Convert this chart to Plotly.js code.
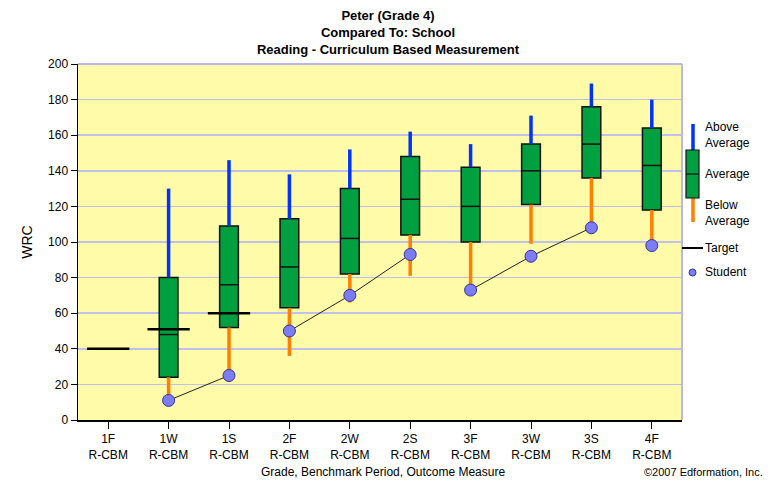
<!DOCTYPE html>
<html><head><meta charset="utf-8">
<script src="https://cdn.plot.ly/plotly-3.0.1.min.js"></script>
<style>body{margin:0;background:#fff}#c{width:776px;height:481px}</style>
</head><body><div id="c"></div>
<script>
const categories = ["1F","1W","1S","2F","2W","2S","3F","3W","3S","4F"];
const measure = "R-CBM";
const whiskerLow = [null,12,25,36,66,81,73,99,111,101];
const q1 =        [null,24,52,63,82,104,100,121,136,118];
const median =    [null,48,76,86,102,124,120,140,155,143];
const q3 =        [null,80,109,113,130,148,142,155,176,164];
const whiskerHigh=[null,130,146,138,152,162,155,171,189,180];
const target =    [40,51,60,null,null,null,null,null,null,null];
const student =   [null,11,25,50,70,93,73,92,108,98];

const idx = categories.map((c,i)=>i);
const boxW = 0.31, medW = 0.31, tgtW = 0.7;
const traces = [];
function segs(vals1, vals2, xoff){
  const x=[],y=[];
  idx.forEach(i=>{ if(vals1[i]!=null && vals2[i]!=null){ x.push(i-xoff,i+xoff,null); y.push(vals1[i],vals2[i],null);} });
  return {x,y};
}
// whiskers
let s = segs(q3, whiskerHigh, 0);
traces.push({type:'scatter',mode:'lines',x:s.x,y:s.y,line:{color:'#0033ff',width:3.5},hoverinfo:'skip'});
s = segs(whiskerLow, q1, 0);
traces.push({type:'scatter',mode:'lines',x:s.x,y:s.y,line:{color:'#ff8000',width:3.5},hoverinfo:'skip'});
// boxes
const bx = idx.filter(i=>q1[i]!=null);
traces.push({type:'bar',x:bx,base:bx.map(i=>q1[i]),y:bx.map(i=>q3[i]-q1[i]),width:boxW,
  marker:{color:'#00a040',line:{color:'#111',width:1.5}},hoverinfo:'skip'});
// medians
const mx=[],my=[];
idx.forEach(i=>{ if(median[i]!=null){ mx.push(i-medW/2,i+medW/2,null); my.push(median[i],median[i],null);} });
traces.push({type:'scatter',mode:'lines',x:mx,y:my,line:{color:'#111',width:1.5},hoverinfo:'skip'});
// targets
const tx=[],ty=[];
idx.forEach(i=>{ if(target[i]!=null){ tx.push(i-tgtW/2,i+tgtW/2,null); ty.push(target[i],target[i],null);} });
traces.push({type:'scatter',mode:'lines',x:tx,y:ty,line:{color:'#000',width:2.5},hoverinfo:'skip'});
// student lines by grade
const grades = [...new Set(categories.map(c=>c[0]))];
grades.forEach(g=>{
  const ii = idx.filter(i=>categories[i][0]===g && student[i]!=null);
  traces.push({type:'scatter',mode:'lines',x:ii,y:ii.map(i=>student[i]),line:{color:'#222',width:1},hoverinfo:'skip'});
});
const si = idx.filter(i=>student[i]!=null);
traces.push({type:'scatter',mode:'markers',x:si,y:si.map(i=>student[i]),
  marker:{color:'#7c7cf4',size:12,line:{color:'#333399',width:1}},hoverinfo:'skip'});

// legend (paper coords)
const X = px => (px-78)/604, Y = py => (420-py)/356;
const shapes = [
  {type:'line',xref:'paper',yref:'paper',x0:X(693),x1:X(693),y0:Y(124),y1:Y(150),line:{color:'#0033ff',width:3.5}},
  {type:'line',xref:'paper',yref:'paper',x0:X(693),x1:X(693),y0:Y(198),y1:Y(222),line:{color:'#ff8000',width:3.5}},
  {type:'rect',xref:'paper',yref:'paper',x0:X(686),x1:X(699),y0:Y(150),y1:Y(198),fillcolor:'#00a040',line:{color:'#111',width:1.2}},
  {type:'line',xref:'paper',yref:'paper',x0:X(686),x1:X(699),y0:Y(174),y1:Y(174),line:{color:'#111',width:1.2}},
  {type:'line',xref:'paper',yref:'paper',x0:X(682),x1:X(703),y0:Y(248),y1:Y(248),line:{color:'#000',width:2}},
  {type:'circle',xref:'paper',yref:'paper',x0:X(689),x1:X(696),y0:Y(269),y1:Y(276),fillcolor:'#7c7cf4',line:{color:'#333399',width:1}}
];
const lf = {family:'Liberation Sans, Arial, sans-serif',size:12,color:'#000'};
const ann = (txt,px,py,extra)=>Object.assign({text:txt,xref:'paper',yref:'paper',x:X(px),y:Y(py),xanchor:'left',yanchor:'middle',showarrow:false,font:lf,align:'left'},extra||{});
const annotations = [
  ann('Above<br>Average',703,135),
  ann('Average',703,174),
  ann('Below<br>Average',703,213),
  ann('Target',703,248),
  ann('Student',703,272),
  {text:'Grade, Benchmark Period, Outcome Measure',xref:'paper',yref:'paper',x:X(383),y:Y(472),xanchor:'center',yanchor:'middle',showarrow:false,font:lf},
  {text:'©2007 Edformation, Inc.',xref:'paper',yref:'paper',x:X(765),y:Y(472),xanchor:'right',yanchor:'middle',showarrow:false,font:{family:lf.family,size:11,color:'#000'}}
];
const layout = {
  width:776,height:481,
  margin:{l:78,r:94,t:64,b:61,pad:0},
  paper_bgcolor:'#ffffff',plot_bgcolor:'#fffba8',
  showlegend:false,
  title:{text:'<b>Peter (Grade 4)</b><br><b>Compared To: School</b><br><b>Reading - Curriculum Based Measurement</b>',
    x:X(380),xanchor:'center',y:0.958,yanchor:'top',
    font:{family:'Liberation Sans Narrow, Liberation Sans, Arial, sans-serif',size:13,color:'#000'}},
  xaxis:{range:[-0.5,9.5],tickvals:idx,ticktext:categories.map(c=>c+'<br>'+measure),
    ticks:'outside',ticklen:7,tickcolor:'#000',showgrid:false,zeroline:false,
    showline:true,linecolor:'#000',linewidth:1.5,mirror:false,
    tickfont:lf,fixedrange:true},
  yaxis:{range:[0,200],dtick:20,ticks:'outside',ticklen:6,tickcolor:'#000',
    showgrid:true,gridcolor:'#c0c0ec',gridwidth:1.5,zeroline:false,
    showline:true,linecolor:'#000',linewidth:1.5,tickfont:lf,
    title:{text:'WRC',font:{family:lf.family,size:14,color:'#000'},standoff:12},fixedrange:true},
  shapes:[
    {type:'line',xref:'paper',yref:'paper',x0:0,x1:1,y0:1,y1:1,line:{color:'#b8b8f0',width:2}},
    {type:'line',xref:'paper',yref:'paper',x0:1,x1:1,y0:0,y1:1,line:{color:'#b8b8f0',width:2}}
  ].concat(shapes),
  annotations
};
Plotly.newPlot('c',traces,layout,{displayModeBar:false,staticPlot:true});
</script></body></html>
